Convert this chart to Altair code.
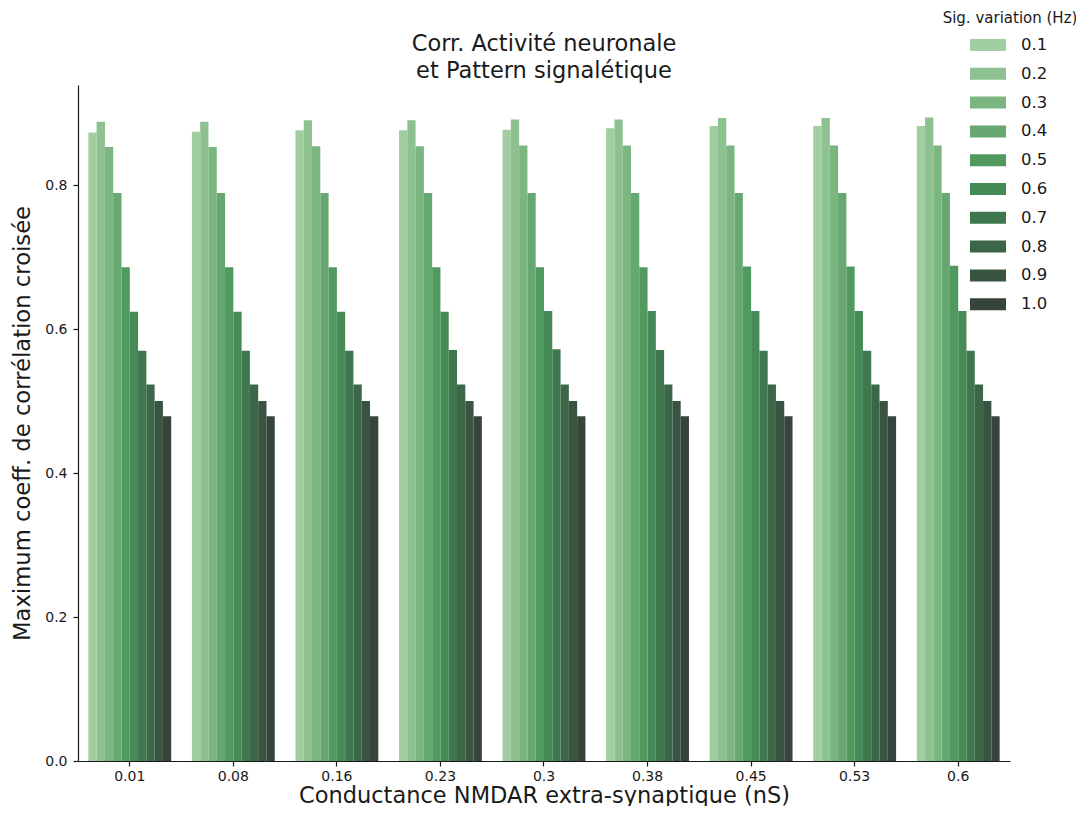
import altair as alt
import pandas as pd

groups = ["0.01", "0.08", "0.16", "0.23", "0.3", "0.38", "0.45", "0.53", "0.6"]
hues = ["0.1", "0.2", "0.3", "0.4", "0.5", "0.6", "0.7", "0.8", "0.9", "1.0"]
colors = ["#a1cea1", "#8dc18f", "#7bb57f", "#67a872", "#52995f",
          "#468b57", "#3f784e", "#3c6648", "#3a5442", "#37443b"]

v01 = [0.873, 0.874, 0.876, 0.876, 0.877, 0.879, 0.882, 0.882, 0.882]
v02 = [0.888, 0.888, 0.890, 0.890, 0.891, 0.891, 0.893, 0.893, 0.894]
v03 = [0.853, 0.853, 0.854, 0.854, 0.855, 0.855, 0.855, 0.855, 0.855]
v04 = [0.789, 0.789, 0.789, 0.789, 0.789, 0.789, 0.789, 0.789, 0.789]
v05 = [0.686, 0.686, 0.686, 0.686, 0.686, 0.686, 0.687, 0.687, 0.688]
v06 = [0.624, 0.624, 0.624, 0.624, 0.625, 0.625, 0.625, 0.625, 0.625]
v07 = [0.570, 0.570, 0.570, 0.571, 0.572, 0.571, 0.570, 0.570, 0.570]
v08 = [0.523, 0.523, 0.523, 0.523, 0.523, 0.523, 0.523, 0.523, 0.523]
v09 = [0.500, 0.500, 0.500, 0.500, 0.500, 0.500, 0.500, 0.500, 0.500]
v10 = [0.479, 0.479, 0.479, 0.479, 0.479, 0.479, 0.479, 0.479, 0.479]
series = [v01, v02, v03, v04, v05, v06, v07, v08, v09, v10]

title_text = "Corr. Activité neuronale\net Pattern signalétique"
legend_title_text = "Sig. variation (Hz)"

rows = []
for h, vals in zip(hues, series):
    for g, v in zip(groups, vals):
        rows.append({"g": g, "h": h, "v": v})
df = pd.DataFrame(rows)

FONT = "DejaVu Sans"
INK = "#1a1a1a"

bars = alt.Chart(df).mark_bar().encode(
    x=alt.X("g:N", sort=groups,
            scale=alt.Scale(paddingInner=0.2, paddingOuter=0.1),
            axis=alt.Axis(title="Conductance NMDAR extra-synaptique (nS)", labelAngle=0,
                          labelPadding=3, titleY=41, titleBaseline="alphabetic",
                          titleFontSize=22.5)),
    xOffset=alt.XOffset("h:N", sort=hues, scale=alt.Scale(paddingInner=0, paddingOuter=0)),
    y=alt.Y("v:Q", scale=alt.Scale(domain=[0, 0.939], nice=False),
            axis=alt.Axis(title="Maximum coeff. de corrélation croisée", values=[0, 0.2, 0.4, 0.6, 0.8],
                          format=".1f", labelPadding=6, titlePadding=10)),
    color=alt.Color("h:N", sort=hues, scale=alt.Scale(domain=hues, range=colors),
                    legend=alt.Legend(title=None, orient="none", legendX=892, legendY=-49,
                                      symbolType="M-1,-0.333H1V0.333H-1Z", symbolSize=1296,
                                      symbolStrokeWidth=0, symbolOpacity=1, clipHeight=18,
                                      labelFontSize=16.5, labelFont=FONT, labelColor=INK,
                                      labelOffset=15, rowPadding=10.8, padding=0)),
)

legend_title = alt.Chart(pd.DataFrame({"t": [legend_title_text]})).mark_text(
    font=FONT, fontSize=15, color=INK, align="center", baseline="middle"
).encode(x=alt.value(932), y=alt.value(-67), text="t:N")

main_title = alt.Chart(pd.DataFrame({"t": [title_text]})).mark_text(
    font=FONT, fontSize=22.5, color=INK, align="center", baseline="middle",
    lineBreak="\n", lineHeight=27
).encode(x=alt.value(466), y=alt.value(-41), text="t:N")

chart = alt.layer(bars, legend_title, main_title).properties(
    width=932, height=676,
    autosize=alt.AutoSizeParams(type="none"),
    padding={"left": 70, "top": 77, "right": 66, "bottom": 45},
).configure_view(stroke=None).configure_axis(
    grid=False, domainColor=INK, tickColor=INK, labelColor=INK,
    titleColor=INK, labelFont=FONT, titleFont=FONT, labelFontSize=14,
    titleFontSize=22.7, titleFontWeight="normal", tickSize=5, domainWidth=1.2, tickWidth=1.2,
)

chart.save("out.html", embed_options={"renderer": "svg", "actions": False})
